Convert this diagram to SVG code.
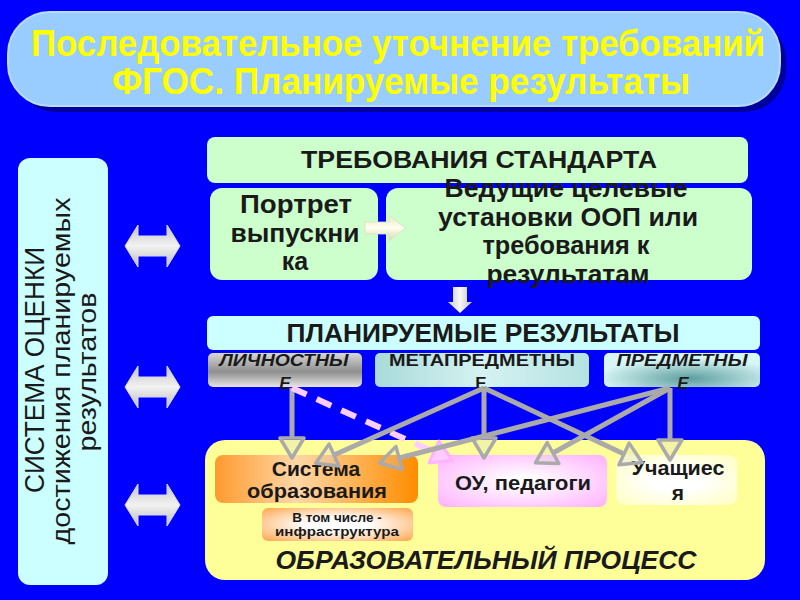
<svg xmlns="http://www.w3.org/2000/svg" width="800" height="600" viewBox="0 0 800 600">
<defs>
<style>
.t{font-family:"Liberation Sans",Arial,sans-serif;fill:#1a1a1a;text-anchor:middle}
.b{font-weight:bold}
.i{font-style:italic}
.conn{stroke:#aaaaaa;stroke-width:5;fill:none;marker-end:url(#ah)}
</style>
<linearGradient id="dbl" x1="0" y1="0" x2="0" y2="1">
<stop offset="0" stop-color="#c4c4c4"/><stop offset="0.5" stop-color="#f2f2f2"/><stop offset="1" stop-color="#bcbcbc"/>
</linearGradient>
<linearGradient id="rarr" x1="0" y1="0" x2="0" y2="1">
<stop offset="0" stop-color="#e8e8c8"/><stop offset="0.5" stop-color="#fffff0"/><stop offset="1" stop-color="#d8d8b0"/>
</linearGradient>
<linearGradient id="darr" x1="0" y1="0" x2="1" y2="0">
<stop offset="0" stop-color="#c8c8c8"/><stop offset="0.5" stop-color="#f8f8f8"/><stop offset="1" stop-color="#c0c0c0"/>
</linearGradient>
<linearGradient id="lich" x1="0" y1="0" x2="0" y2="1">
<stop offset="0" stop-color="#d8d8d8"/><stop offset="0.55" stop-color="#8e8e8e"/><stop offset="1" stop-color="#e6e6e6"/>
</linearGradient>
<linearGradient id="meta" x1="0" y1="0" x2="1" y2="0">
<stop offset="0" stop-color="#a9dada"/><stop offset="0.5" stop-color="#d6f2f2"/><stop offset="1" stop-color="#b4e2e2"/>
</linearGradient>
<radialGradient id="pred" cx="0.55" cy="0.75" r="0.6">
<stop offset="0" stop-color="#5e9e9e"/><stop offset="1" stop-color="#d8f6f6"/>
</radialGradient>
<linearGradient id="sys" x1="0" y1="0" x2="1" y2="0">
<stop offset="0" stop-color="#ff9a2e"/><stop offset="0.4" stop-color="#ffd7a6"/><stop offset="1" stop-color="#ff8c00"/>
</linearGradient>
<radialGradient id="infra" cx="0.5" cy="0.5" r="0.7">
<stop offset="0.3" stop-color="#ffffff"/><stop offset="1" stop-color="#ffa64d"/>
</radialGradient>
<radialGradient id="ou" cx="0.5" cy="0.5" r="0.7">
<stop offset="0.1" stop-color="#ffffff"/><stop offset="1" stop-color="#ffb0ff"/>
</radialGradient>
<radialGradient id="uch" cx="0.5" cy="0.5" r="0.7">
<stop offset="0.3" stop-color="#ffffff"/><stop offset="1" stop-color="#ffffc0"/>
</radialGradient>
<marker id="ah" markerUnits="userSpaceOnUse" markerWidth="26" markerHeight="28" viewBox="0 0 26 28" refX="2" refY="14" orient="auto">
<path d="M2,2 L22,14 L2,26 Z" fill="#d0d0d0" fill-opacity="0.25" stroke="#aaaaaa" stroke-width="3.5" stroke-linejoin="round"/>
</marker>
<marker id="ahp" markerUnits="userSpaceOnUse" markerWidth="26" markerHeight="28" viewBox="0 0 26 28" refX="2" refY="14" orient="auto">
<path d="M2,2 L22,14 L2,26 Z" fill="#ffccff" stroke="#ffb3ff" stroke-width="3" stroke-linejoin="round"/>
</marker>
</defs>
<rect width="800" height="600" fill="#0000ff"/>

<g id="title">
<rect x="14" y="18" width="772" height="94" rx="42" fill="#00009a"/>
<rect x="8" y="12" width="772" height="94" rx="42" fill="#99ccff" stroke="#b8dcff" stroke-width="2"/>
<text x="398" y="56" font-family="Liberation Sans, Arial, sans-serif" font-weight="bold" font-size="37" fill="#ffff00" text-anchor="middle" textLength="734" lengthAdjust="spacingAndGlyphs">Последовательное уточнение требований</text>
<text x="401" y="94" font-family="Liberation Sans, Arial, sans-serif" font-weight="bold" font-size="37" fill="#ffff00" text-anchor="middle" textLength="578" lengthAdjust="spacingAndGlyphs">ФГОС. Планируемые результаты</text>
</g>

<g id="assessment">
<rect x="18" y="158" width="90" height="427" rx="12" fill="#ccffff"/>
<text class="t" transform="translate(44,370) rotate(-90)" font-size="27" textLength="246" lengthAdjust="spacingAndGlyphs" style="font-weight:500">СИСТЕМА ОЦЕНКИ</text>
<text class="t" transform="translate(70,371) rotate(-90)" font-size="26" textLength="347" lengthAdjust="spacingAndGlyphs">достижения планируемых</text>
<text class="t" transform="translate(96,372) rotate(-90)" font-size="26" textLength="159" lengthAdjust="spacingAndGlyphs">результатов</text>
</g>

<g id="dblarrows" fill="url(#dbl)" stroke="#d8d8ff" stroke-width="1">
<path d="M125,246 L138,225 L138,236 L167,236 L167,225 L180,246 L167,267 L167,256 L138,256 L138,267 Z"/>
<path d="M125,387 L138,366 L138,377 L167,377 L167,366 L180,387 L167,408 L167,397 L138,397 L138,408 Z"/>
<path d="M125,505 L138,484 L138,495 L167,495 L167,484 L180,505 L167,526 L167,515 L138,515 L138,526 Z"/>
</g>

<g id="req-standard">
<rect x="207" y="137" width="541" height="46" rx="8" fill="#ccffcc"/>
<text class="t" x="479" y="168" font-size="23" textLength="356" lengthAdjust="spacingAndGlyphs" style="font-weight:600">ТРЕБОВАНИЯ СТАНДАРТА</text>
</g>

<g id="portrait">
<rect x="210" y="188" width="168" height="92" rx="12" fill="#ccffcc"/>
<text class="t b" x="296" y="213" font-size="25" textLength="112" lengthAdjust="spacingAndGlyphs">Портрет</text>
<text class="t b" x="295" y="242" font-size="25" textLength="129" lengthAdjust="spacingAndGlyphs">выпускни</text>
<text class="t b" x="295" y="270" font-size="25">ка</text>
</g>

<g id="targets">
<rect x="386" y="188" width="366" height="92" rx="12" fill="#ccffcc"/>
<text class="t b" x="566" y="197" font-size="25" textLength="243" lengthAdjust="spacingAndGlyphs">Ведущие целевые</text>
<text class="t b" x="568" y="226" font-size="25" textLength="260" lengthAdjust="spacingAndGlyphs">установки ООП или</text>
<text class="t b" x="566" y="254" font-size="25" textLength="167" lengthAdjust="spacingAndGlyphs">требования к</text>
<text class="t b" x="568" y="283" font-size="25" textLength="163" lengthAdjust="spacingAndGlyphs">результатам</text>
</g>

<g id="arrow-right">
<path d="M365,222 L389,222 L389,215 L405,228 L389,241 L389,234 L365,234 Z" fill="url(#rarr)" stroke="#e0e0c0" stroke-width="0.8"/>
</g>
<g id="arrow-down">
<path d="M453,287 L467,287 L467,302 L472,302 L460,313 L448,302 L453,302 Z" fill="url(#darr)"/>
</g>

<g id="planned">
<rect x="207" y="316" width="553" height="34" rx="6" fill="#ccffff"/>
<text class="t" x="483" y="342" font-size="25" textLength="393" lengthAdjust="spacingAndGlyphs" style="font-weight:600">ПЛАНИРУЕМЫЕ РЕЗУЛЬТАТЫ</text>
</g>

<g id="personal">
<rect x="208" y="353" width="154" height="34" rx="5" fill="url(#lich)"/>
<text class="t b i" x="284" y="366" font-size="17" textLength="129" lengthAdjust="spacingAndGlyphs">ЛИЧНОСТНЫ</text>
<text class="t b i" x="285" y="389" font-size="17">Е</text>
</g>

<g id="metasubject">
<rect x="375" y="353" width="214" height="34" rx="5" fill="url(#meta)"/>
<text class="t b" x="482" y="366" font-size="17" textLength="186" lengthAdjust="spacingAndGlyphs">МЕТАПРЕДМЕТНЫ</text>
<text class="t b" x="481" y="389" font-size="17">Е</text>
</g>

<g id="subject">
<rect x="604" y="353" width="156" height="34" rx="5" fill="url(#pred)"/>
<text class="t b i" x="682" y="366" font-size="17" textLength="131" lengthAdjust="spacingAndGlyphs">ПРЕДМЕТНЫ</text>
<text class="t b i" x="683" y="389" font-size="17">Е</text>
</g>

<g id="process">
<rect x="205" y="440" width="560" height="140" rx="20" fill="#ffff99"/>
<text class="t b i" x="486" y="569" font-size="25" textLength="421" lengthAdjust="spacingAndGlyphs">ОБРАЗОВАТЕЛЬНЫЙ ПРОЦЕСС</text>
</g>

<g id="edu-system">
<rect x="215" y="455" width="203" height="48" rx="8" fill="url(#sys)"/>
<text class="t" x="316" y="476" font-size="21" style="font-weight:600">Система</text>
<text class="t" x="317" y="498" font-size="21" textLength="140" lengthAdjust="spacingAndGlyphs" style="font-weight:600">образования</text>
</g>

<g id="infrastructure">
<rect x="262" y="508" width="151" height="33" rx="6" fill="url(#infra)"/>
<text class="t" x="337" y="522" font-size="13.5" style="font-weight:600">В том числе -</text>
<text class="t" x="337" y="536" font-size="13.5" textLength="124" lengthAdjust="spacingAndGlyphs" style="font-weight:600">инфраструктура</text>
</g>

<g id="teachers">
<rect x="438" y="455" width="169" height="52" rx="8" fill="url(#ou)"/>
<text class="t" x="523" y="490" font-size="21" textLength="136" lengthAdjust="spacingAndGlyphs" style="font-weight:600">ОУ, педагоги</text>
</g>

<g id="students">
<rect x="616" y="455" width="121" height="50" rx="8" fill="url(#uch)"/>
<text class="t" x="678" y="475" font-size="21" textLength="93" lengthAdjust="spacingAndGlyphs" style="font-weight:600">Учащиес</text>
<text class="t" x="678" y="500" font-size="21" style="font-weight:600">я</text>
</g>

<g id="connectors">
<line class="conn" x1="292" y1="388" x2="292" y2="438"/>
<line x1="292" y1="388" x2="434" y2="452" stroke="#ffccff" stroke-width="6" stroke-dasharray="16,11" marker-end="url(#ahp)"/>
<line class="conn" x1="484" y1="388" x2="334" y2="455"/>
<line class="conn" x1="484" y1="388" x2="484" y2="438"/>
<line class="conn" x1="484" y1="388" x2="624" y2="454"/>
<line class="conn" x1="670" y1="388" x2="670" y2="440"/>
<line class="conn" x1="670" y1="388" x2="553" y2="453"/>
<line class="conn" x1="670" y1="388" x2="399" y2="458"/>
</g>
</svg>
